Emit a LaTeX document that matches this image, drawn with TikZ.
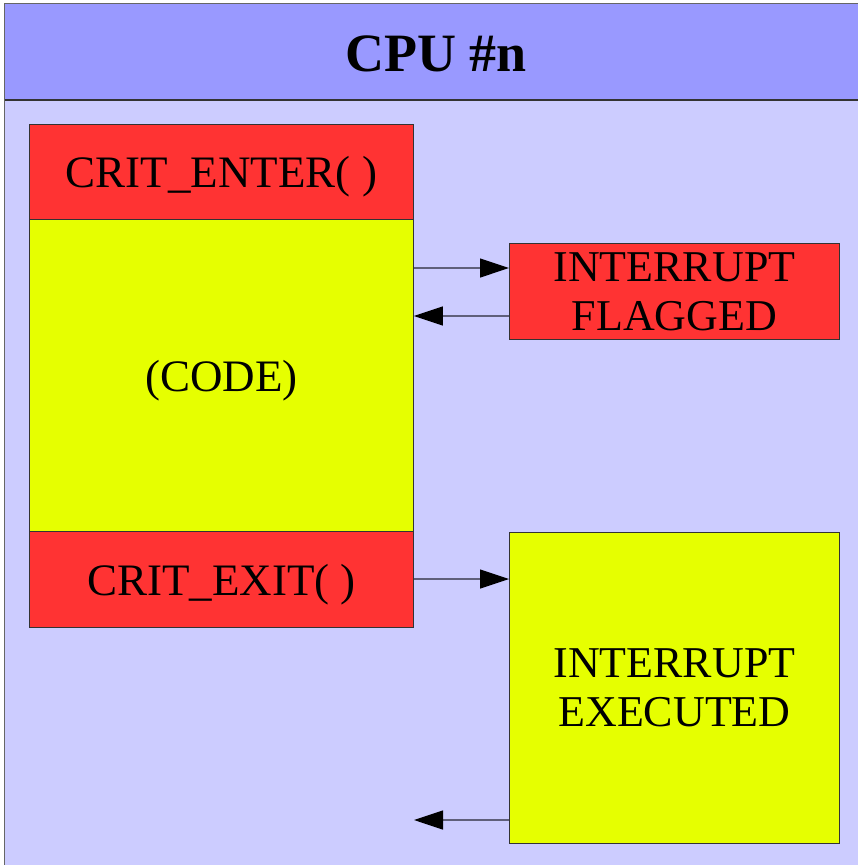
\documentclass[tikz,border=0pt]{standalone}
\usepackage{fontspec}
\setmainfont{Liberation Serif}
\usetikzlibrary{arrows.meta}
\definecolor{headblue}{HTML}{9999FF}
\definecolor{bodyblue}{HTML}{CCCCFF}
\definecolor{critred}{HTML}{FF3333}
\definecolor{codeyellow}{HTML}{E6FF00}
\definecolor{edgegray}{HTML}{333333}
\definecolor{linkgray}{HTML}{5F5F7A}
\tikzset{
  block/.style={draw=edgegray, line width=0.9pt, inner sep=0pt, anchor=north west,
    font=\fontsize{45}{49}\selectfont, align=center},
  oneline/.style={text depth=0pt},
  twoline/.style={font=\fontsize{44}{49}\selectfont},
  redblock/.style={block, fill=critred},
  yellowblock/.style={block, fill=codeyellow},
  link/.style={draw=linkgray, line width=1.2pt,
    -{Triangle[length=29pt,width=19pt,color=black]}},
}
\begin{document}
\begin{tikzpicture}[x=1pt,y=-1pt]
\useasboundingbox (0,0) rectangle (858,865);
\begin{scope}
  \clip (0,0) rectangle (858,865);
  % CPU frame: body and title bar
  \fill[bodyblue] (4.5,3.5) rectangle (900,900);
  \fill[headblue] (4.5,3.5) rectangle (900,100);
  \draw[gray!80!black, line width=1.5pt] (900,3.5) -- (4.5,3.5) -- (4.5,900);
  \draw[edgegray, line width=1.2pt] (4.5,100) -- (900,100);
\end{scope}
\node[font=\fontsize{54}{60}\bfseries\selectfont] (title) at (436,54) {CPU \#n};

% critical section stack
\node[redblock, oneline, minimum width=384pt, minimum height=95pt] (enter) at (29,124) {CRIT\_ENTER( )};
\node[yellowblock, oneline, minimum width=384pt, minimum height=312pt] (code) at (29,219) {(CODE)};
\node[redblock, oneline, minimum width=384pt, minimum height=96pt] (exit) at (29,531) {CRIT\_EXIT( )};

% interrupt side
\node[redblock, twoline, minimum width=330pt, minimum height=96pt] (flag) at (509,243) {INTERRUPT\\FLAGGED};
\node[yellowblock, twoline, minimum width=330pt, minimum height=311pt] (exec) at (509,532) {INTERRUPT\\EXECUTED};

\coordinate (ret) at (414,820);
\draw[link] (code.east |- 0,268) -- (flag.west |- 0,268);
\draw[link] (flag.west |- 0,316) -- (code.east |- 0,316);
\draw[link] (exit.east |- 0,579) -- (exec.west |- 0,579);
\draw[link] (exec.west |- ret) -- (ret);
\end{tikzpicture}
\end{document}
